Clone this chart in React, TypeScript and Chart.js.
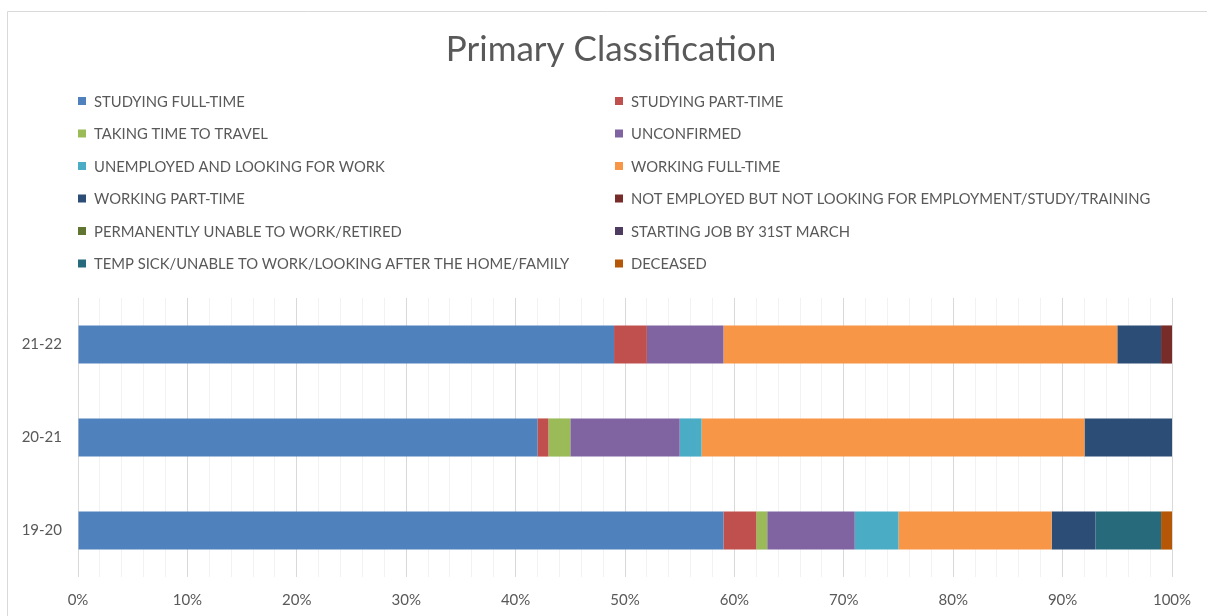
import React, { useEffect, useRef } from "react";
import { Chart, registerables } from "chart.js";

Chart.register(...registerables);

const categories = ["21-22", "20-21", "19-20"];

const seriesLabels = [
  "STUDYING FULL-TIME",
  "STUDYING PART-TIME",
  "TAKING TIME TO TRAVEL",
  "UNCONFIRMED",
  "UNEMPLOYED AND LOOKING FOR WORK",
  "WORKING FULL-TIME",
  "WORKING PART-TIME",
  "NOT EMPLOYED BUT NOT LOOKING FOR EMPLOYMENT/STUDY/TRAINING",
  "PERMANENTLY UNABLE TO WORK/RETIRED",
  "STARTING JOB BY 31ST MARCH",
  "TEMP SICK/UNABLE TO WORK/LOOKING AFTER THE HOME/FAMILY",
  "DECEASED",
];

const seriesColors = [
  "#4F81BD",
  "#C0504D",
  "#9BBB59",
  "#8064A2",
  "#4BACC6",
  "#F79646",
  "#2C4D75",
  "#772C2A",
  "#5F7530",
  "#4D3B62",
  "#276A7C",
  "#B65708",
];

// values per category: [21-22, 20-21, 19-20] (percent)
const studyingFullTime = [49, 42, 59];
const studyingPartTime = [3, 1, 3];
const takingTimeToTravel = [0, 2, 1];
const unconfirmed = [7, 10, 8];
const unemployedLooking = [0, 2, 4];
const workingFullTime = [36, 35, 14];
const workingPartTime = [4, 8, 4];
const notEmployedNotLooking = [1, 0, 0];
const permanentlyUnable = [0, 0, 0];
const startingJob = [0, 0, 0];
const tempSick = [0, 0, 6];
const deceased = [0, 0, 1];

const seriesValues = [
  studyingFullTime,
  studyingPartTime,
  takingTimeToTravel,
  unconfirmed,
  unemployedLooking,
  workingFullTime,
  workingPartTime,
  notEmployedNotLooking,
  permanentlyUnable,
  startingJob,
  tempSick,
  deceased,
];

const xTickLabels = ["0%", "10%", "20%", "30%", "40%", "50%", "60%", "70%", "80%", "90%", "100%"];

const TEXT = "#595959";
const FONT = "Lato, 'Open Sans', sans-serif";

const framePlugin = {
  id: "frame",
  beforeDraw(chart: any) {
    const ctx = chart.ctx;
    ctx.save();
    ctx.fillStyle = "#ffffff";
    ctx.fillRect(0, 0, chart.width, chart.height);
    ctx.strokeStyle = "#d9d9d9";
    ctx.lineWidth = 1;
    ctx.beginPath();
    ctx.moveTo(7.5, chart.height);
    ctx.lineTo(7.5, 11.5);
    ctx.lineTo(chart.width, 11.5);
    ctx.stroke();
    ctx.restore();
  },
  afterDraw(chart: any) {
    const ctx = chart.ctx;
    ctx.save();
    // title
    ctx.fillStyle = TEXT;
    ctx.font = `35px ${FONT}`;
    ctx.textAlign = "center";
    ctx.textBaseline = "middle";
    ctx.fillText("Primary Classification", 611, 50);
    // legend (two columns)
    ctx.font = `14.8px ${FONT}`;
    ctx.textAlign = "left";
    chart.data.datasets.forEach((ds: any, i: number) => {
      const col = i % 2;
      const row = Math.floor(i / 2);
      const x = col === 0 ? 78 : 615;
      const y = 101 + row * 32.5;
      ctx.fillStyle = ds.backgroundColor;
      ctx.fillRect(x, y - 4, 8, 8);
      ctx.fillStyle = TEXT;
      ctx.fillText(ds.label, x + 16, y + 1);
    });
    ctx.restore();
  },
};

export default function App() {
  const ref = useRef<HTMLCanvasElement>(null);

  useEffect(() => {
    document.body.style.margin = "0";
    const canvas = ref.current!;
    const chart = new Chart(canvas, {
      type: "bar",
      data: {
        labels: categories,
        datasets: seriesLabels.map((label, i) => ({
          label,
          data: seriesValues[i],
          backgroundColor: seriesColors[i],
          borderWidth: 0,
          barPercentage: 0.41,
          categoryPercentage: 1,
        })),
      },
      options: {
        indexAxis: "y",
        animation: false,
        responsive: false,
        devicePixelRatio: 1,
        layout: { padding: { top: 298, right: 35, left: 0, bottom: 0 } },
        plugins: {
          legend: { display: false },
          title: { display: false },
          tooltip: { enabled: false },
        },
        scales: {
          x: {
            stacked: true,
            min: 0,
            max: 100,
            border: { display: false },
            grid: {
              drawTicks: false,
              color: (c: any) => (c.tick && c.tick.value % 10 === 0 ? "#d9d9d9" : "#f2f2f2"),
              lineWidth: 1,
            },
            ticks: {
              stepSize: 2,
              autoSkip: false,
              maxRotation: 0,
              padding: 14,
              color: TEXT,
              font: { family: FONT, size: 15 },
              callback: (v: any) => (Number(v) % 10 === 0 ? xTickLabels[Number(v) / 10] : ""),
            },
            afterFit: (s: any) => {
              s.height = 39;
            },
          },
          y: {
            stacked: true,
            border: { display: false },
            grid: { display: false, drawTicks: false },
            ticks: {
              padding: 16,
              color: TEXT,
              font: { family: FONT, size: 15 },
            },
            afterFit: (s: any) => {
              s.width = 78;
            },
          },
        },
      },
      plugins: [framePlugin],
    });
    return () => chart.destroy();
  }, []);

  return (
    <div style={{ position: "relative", width: 1207, height: 616 }}>
      <canvas ref={ref} width={1207} height={616} style={{ display: "block" }} />
    </div>
  );
}
